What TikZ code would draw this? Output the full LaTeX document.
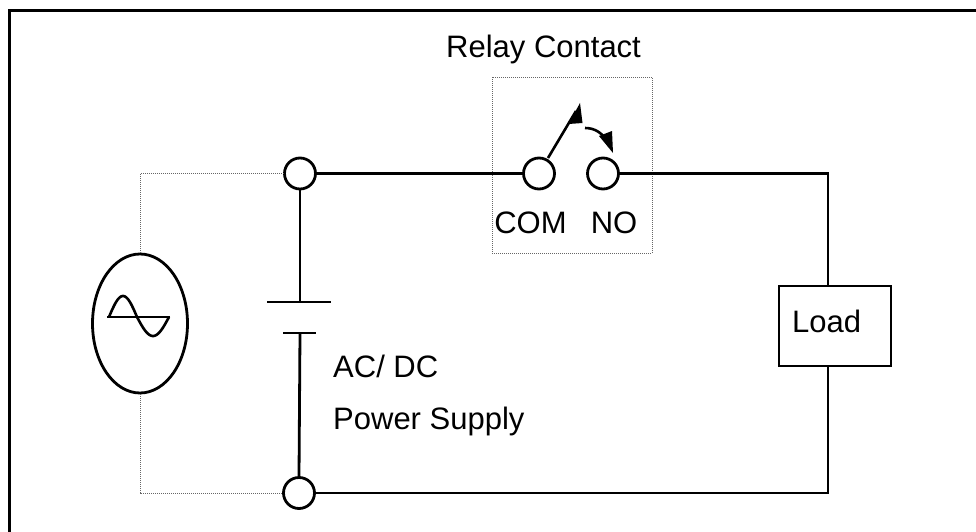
\documentclass[tikz,border=0pt]{standalone}
\usepackage{fontspec}
\setmainfont{Liberation Sans}
\usetikzlibrary{shapes.geometric}
\begin{document}
\begin{tikzpicture}[x=1pt,y=-1pt,
  wire/.style={line width=2.8pt},
  dotline/.style={line width=0.9pt, black!60, dash pattern=on 1pt off 1pt},
  term/.style={circle, draw, line width=2.8pt, minimum size=31pt, inner sep=0pt, fill=white},
  lbl/.style={font=\fontsize{31}{37}\selectfont, inner sep=0pt},
  loadbox/.style={draw, line width=2.8pt, minimum width=112pt, minimum height=80pt, inner sep=0pt},
  acsrc/.style={ellipse, draw, line width=2.8pt, minimum width=95pt, minimum height=139pt, inner sep=0pt},
  relaybox/.style={draw, dotline, minimum width=160pt, minimum height=176pt, inner sep=0pt}]
\useasboundingbox (0,0) rectangle (976,532);
\clip (0,0) rectangle (976,532);
% frame
\draw[line width=3pt] (9,560) -- (9,11) -- (1000,11);
% relay contact box
\node[relaybox] (relay) at (572,165) {};
\node[lbl, anchor=base west] (rlbl) at (446,58) {Relay Contact};
% terminals
\node[term] (t1) at (300,173.5) {};
\node[term] (t2) at (299,493) {};
\node[term] (com) at (539,173.5) {};
\node[term] (no) at (603,173.5) {};
\node[lbl] (comlbl) at (530.5,223) {COM};
\node[lbl] (nolbl) at (614,223) {NO};
% switch arm
\coordinate (armA) at (548,158);
\coordinate (armB) at (576,111);
\draw[line width=2.6pt] (armA) -- (armB);
\fill (580,103) -- (582.5,123) -- (568.5,124) -- cycle;
% curved arrow
\coordinate (cvA) at (585,128);
\coordinate (cvB) at (607,141);
\draw[line width=2.6pt] (cvA) .. controls (595,128) and (602,133) .. (cvB);
\fill (599,136) -- (612,131) -- (613,153) -- cycle;
% battery
\coordinate (bp1) at (300,302);
\coordinate (bp2) at (300,333);
\draw[wire] (267,302) -- (331,302);
\draw[wire] (283,333) -- (316,333);
\draw[wire] (t1.south) -- (bp1);
\draw[wire] (bp2) -- (t2.north);
\node[lbl, anchor=base west] (acdc) at (333,377) {AC/ DC};
\node[lbl, anchor=base west] (ps) at (333,429) {Power Supply};
% load
\node[loadbox] (load) at (835,326) {};
\node[lbl, anchor=base west] (ldlbl) at (792,332) {Load};
\coordinate (rt) at (828,173.5);
\coordinate (rb) at (828,493);
\draw[wire] (t1.east) -- (com.west);
\draw[wire] (no.east) -- (rt) -- (rt |- load.north);
\draw[wire] (rb |- load.south) -- (rb) -- (t2.east);
% AC source
\node[acsrc] (ac) at (140,323.5) {};
\draw[dotline] (ac.north) |- (t1.west);
\draw[dotline] (ac.south) |- (t2.west);
\draw[line width=2.6pt] (107,317) -- (170,317);
\draw[line width=2.6pt] plot[domain=0:180, samples=30] ({109+\x/180*28},{317-21*sin(\x)});
\draw[line width=2.6pt] plot[domain=0:180, samples=30] ({137+\x/180*32},{317+19*sin(\x)});
\end{tikzpicture}
\end{document}
